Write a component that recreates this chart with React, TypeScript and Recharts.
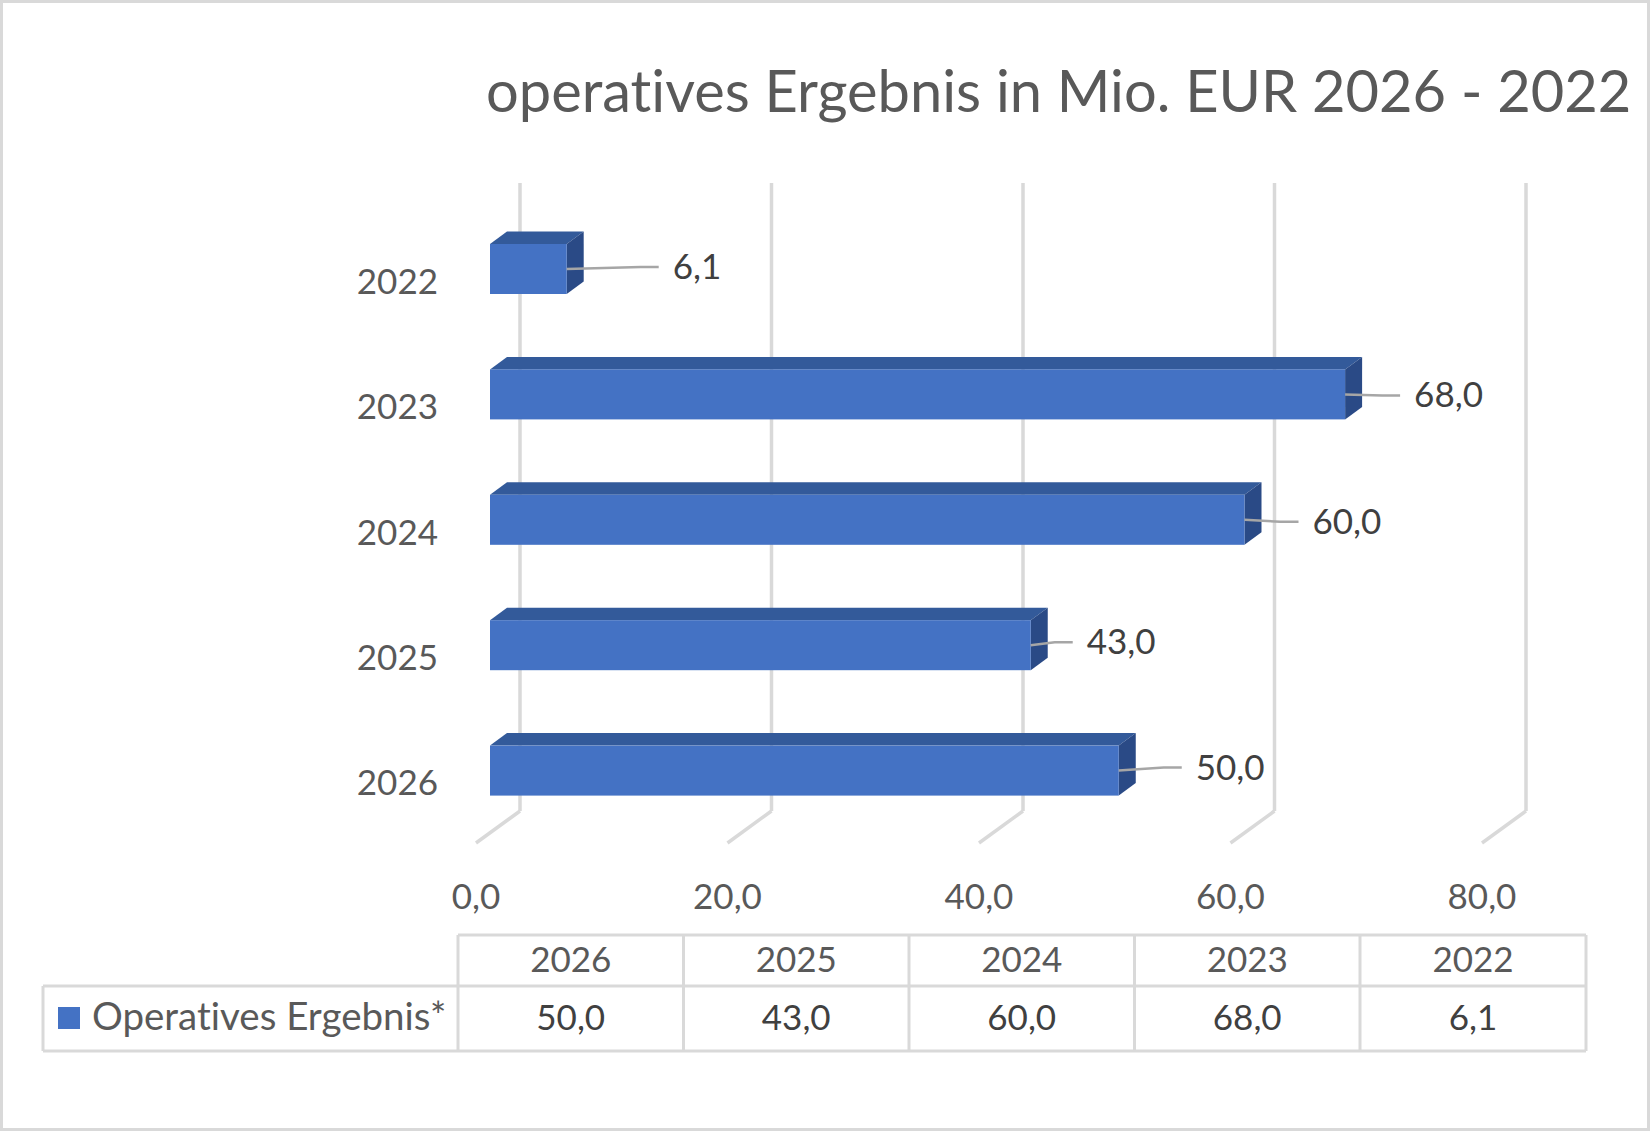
import { BarChart, Bar, XAxis, YAxis, CartesianGrid, LabelList } from "recharts"

// Excel-like 3D bar chart: operatives Ergebnis
const years = ["2026", "2025", "2024", "2023", "2022"]
const ergebnis = [50.0, 43.0, 60.0, 68.0, 6.1]
const xTicks = [0, 20, 40, 60, 80]
const seriesName = "Operatives Ergebnis*"
const chartTitle = "operatives Ergebnis in Mio. EUR 2026 - 2022"

// label nudges (leader line length / vertical shift), same order as years
const labelDx = [77, 56, 68, 69, 106]
const labelDy = [-3, -3, 2, 1, -2]

const data = years.map((y, i) => ({ year: y, value: ergebnis[i] }))

const FONT = "Lato, 'Open Sans', sans-serif"
const W = 1650
const H = 1131
const DEPTH_X = 17
const DEPTH_Y = 12.5
const GRID = "#d9d9d9"
const noLig = { fontVariantLigatures: "none" as const }

const fmt = (v: number) => v.toFixed(1).replace(".", ",")

function Box3D(props: any) {
  const { x, y, width, height } = props
  if (width == null || height == null) return null
  const w = width
  const h = height
  return (
    <g>
      <polygon
        points={`${x},${y} ${x + w},${y} ${x + w + DEPTH_X},${y - DEPTH_Y} ${x + DEPTH_X},${y - DEPTH_Y}`}
        fill="#335a9a"
      />
      <polygon
        points={`${x + w},${y} ${x + w + DEPTH_X},${y - DEPTH_Y} ${x + w + DEPTH_X},${y + h - DEPTH_Y} ${x + w},${y + h}`}
        fill="#2a4a86"
      />
      <rect x={x} y={y} width={w} height={h} fill="#4472c4" />
    </g>
  )
}

function Leader(props: any) {
  const { x, y, width, height, value, index } = props
  const right = x + width
  const cy = y + height / 2
  const lx = right + labelDx[index]
  const ly = cy + labelDy[index]
  return (
    <g>
      <polyline
        points={`${right},${cy} ${lx - 32},${ly} ${lx - 14},${ly}`}
        fill="none"
        stroke="#a6a6a6"
        strokeWidth={2.5}
      />
      <text x={lx} y={ly} dy={12} fontSize={35} fontFamily={FONT} fill="#404040">
        {fmt(value)}
      </text>
    </g>
  )
}

function gridLine(props: any) {
  const x = props.x1
  return (
    <g key={"g" + props.index + "-" + x}>
      <line x1={x + 30} y1={183} x2={x + 30} y2={811} stroke={GRID} strokeWidth={3.5} />
      <line x1={x + 30} y1={811} x2={x - 14} y2={843} stroke={GRID} strokeWidth={3.5} />
    </g>
  )
}

function XTick(props: any) {
  const { x, payload } = props
  return (
    <text x={x - 14} y={909} textAnchor="middle" fontSize={35} fontFamily={FONT} fill="#595959">
      {fmt(payload.value)}
    </text>
  )
}

function YTick(props: any) {
  const { y, payload } = props
  return (
    <text x={438} y={y + 25} textAnchor="end" fontSize={35} fontFamily={FONT} fill="#595959">
      {payload.value}
    </text>
  )
}

function DataTable() {
  const cols = [458, 683.5, 909, 1134.5, 1360, 1586]
  const top = 935
  const mid = 986
  const bottom = 1051
  const left = 43
  return (
    <g>
      <line x1={cols[0]} y1={top} x2={cols[5]} y2={top} stroke={GRID} strokeWidth={3} />
      <line x1={left} y1={mid} x2={cols[5]} y2={mid} stroke={GRID} strokeWidth={3} />
      <line x1={left} y1={bottom} x2={cols[5]} y2={bottom} stroke={GRID} strokeWidth={3} />
      <line x1={left} y1={mid} x2={left} y2={bottom} stroke={GRID} strokeWidth={3} />
      {cols.map((c, i) => (
        <line key={"c" + i} x1={c} y1={top} x2={c} y2={bottom} stroke={GRID} strokeWidth={3} />
      ))}
      {years.map((y, i) => (
        <text
          key={"h" + y}
          x={(cols[i] + cols[i + 1]) / 2}
          y={972}
          textAnchor="middle"
          fontSize={35}
          fontFamily={FONT}
          fill="#595959"
        >
          {y}
        </text>
      ))}
      {ergebnis.map((v, i) => (
        <text
          key={"v" + i}
          x={(cols[i] + cols[i + 1]) / 2}
          y={1030}
          textAnchor="middle"
          fontSize={35}
          fontFamily={FONT}
          fill="#404040"
        >
          {fmt(v)}
        </text>
      ))}
      <rect x={58} y={1007} width={22} height={22} fill="#4472c4" />
      <text x={92} y={1030} fontSize={38.5} fontFamily={FONT} fill="#595959" style={noLig}>
        {seriesName}
      </text>
    </g>
  )
}

export default function App() {
  return (
    <div style={{ position: "absolute", left: 0, top: 0, width: W, height: H, background: "#fff" }}>
      <BarChart
        width={W}
        height={H}
        data={data}
        layout="vertical"
        margin={{ top: 206, right: 154, left: 0, bottom: 268 }}
      >
        <CartesianGrid horizontal={false} vertical={gridLine} />
        <XAxis
          type="number"
          domain={[0, 80]}
          ticks={xTicks}
          axisLine={false}
          tickLine={false}
          tick={<XTick />}
          height={30}
        />
        <YAxis
          type="category"
          dataKey="year"
          reversed
          width={490}
          axisLine={false}
          tickLine={false}
          tick={<YTick />}
        />
        <Bar dataKey="value" barSize={50} shape={<Box3D />} isAnimationActive={false}>
          <LabelList dataKey="value" content={<Leader />} />
        </Bar>
      </BarChart>
      <svg
        width={W}
        height={H}
        style={{ position: "absolute", left: 0, top: 0, pointerEvents: "none" }}
      >
        <rect x={1.5} y={1.5} width={W - 3} height={H - 3} fill="none" stroke={GRID} strokeWidth={3} />
        <text x={486} y={112} fontSize={57.8} fontFamily={FONT} fill="#595959" style={noLig}>
          {chartTitle}
        </text>
        <DataTable />
      </svg>
    </div>
  )
}
